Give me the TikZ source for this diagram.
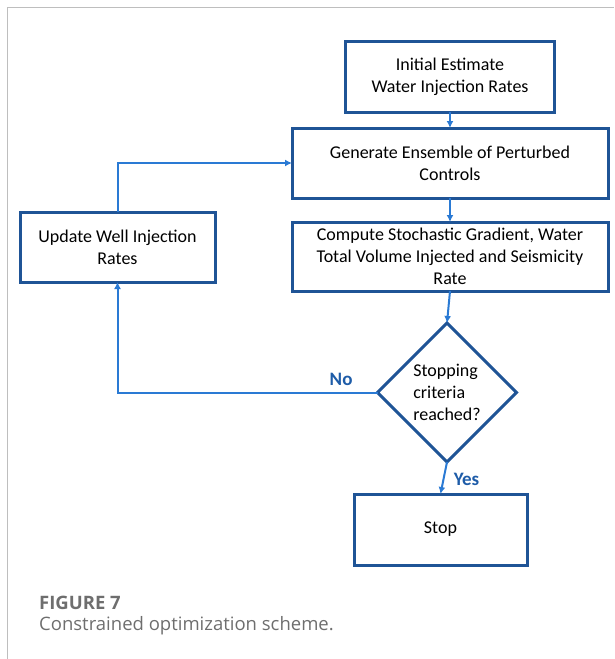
\documentclass[tikz,border=0pt]{standalone}
\usepackage{fontspec}
\setmainfont{Carlito}
\newfontfamily\capfont{Open Sans}
\usetikzlibrary{arrows.meta,positioning,shapes.geometric}
\definecolor{boxblue}{RGB}{31,84,150}
\definecolor{arrowblue}{RGB}{42,122,212}
\definecolor{labelblue}{RGB}{30,92,168}
\definecolor{framegray}{RGB}{190,190,190}
\definecolor{capgray}{RGB}{110,110,110}

\begin{document}
\begin{tikzpicture}[
  x=1pt, y=-1pt,
  >=Latex,
  font=\fontsize{18}{22}\selectfont,
  block/.style={rectangle, draw=boxblue, line width=3pt, align=center, inner sep=0pt, outer sep=0pt},
  decision/.style={diamond, draw=boxblue, line width=3pt, aspect=1, align=left, inner sep=0pt, outer sep=0pt, minimum size=139pt},
  line/.style={draw=arrowblue, line width=2pt, -{Latex[length=7pt,width=7pt]}},
  lbl/.style={text=labelblue, font=\fontsize{19}{22}\selectfont\bfseries}
]
\useasboundingbox (0,0) rectangle (614,659);
\draw[framegray, line width=1pt] (7,659) -- (7,7) -- (614,7);

\node[block, minimum width=209pt, minimum height=71pt] (init) at (450,76.5) {Initial Estimate\\Water Injection Rates};
\node[block, below=16pt of init, minimum width=316pt, minimum height=70pt] (gen) {Generate Ensemble of Perturbed\\Controls};
\node[block, below=24pt of gen, minimum width=316pt, minimum height=69pt] (comp) {Compute Stochastic Gradient, Water\\Total Volume Injected and Seismicity\\Rate};
\node[block, left=77pt of comp, yshift=9.5pt, minimum width=195pt, minimum height=70pt] (upd) {Update Well Injection\\Rates};
\node[decision, below=32pt of comp, xshift=-3pt] (check) {Stopping\\criteria\\reached?};
\node[block, below=32pt of check, xshift=-6.5pt, minimum width=173pt, minimum height=71pt] (stop) {Stop};

\path[line] (init) -- (gen);
\path[line] (gen) -- (comp);
\path[line] (comp.south) -- (check.north);
\path[line] (check.west) -| (upd.south) node[lbl, pos=0.07, above=3pt]{No};
\path[line] (upd.north) |- (gen.west);
\path[line] (check.south) -- (stop.north) node[lbl, pos=0.55, right=6pt]{Yes};

\node[anchor=west, inner sep=0pt, text=capgray, font=\capfont\fontsize{18.5}{22}\selectfont\bfseries] (fignum) at (39,603) {FIGURE 7};
\node[anchor=west, inner sep=0pt, text=capgray, font=\capfont\fontsize{18.5}{22}\selectfont] (figcap) at (39,626) {Constrained optimization scheme.};
\end{tikzpicture}
\end{document}
